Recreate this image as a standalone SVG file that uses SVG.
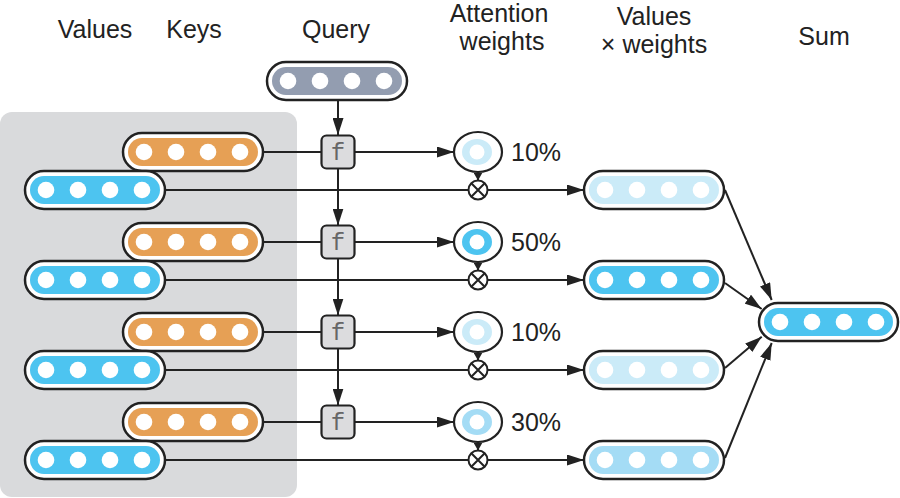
<svg xmlns="http://www.w3.org/2000/svg" xmlns:xlink="http://www.w3.org/1999/xlink" width="900" height="498" viewBox="0 0 900 498">
<style>
  .lbl{font-family:"Liberation Sans",Arial,sans-serif;font-size:25px;fill:#222;}
  .mid{text-anchor:middle;}
  .po{fill:#fff;stroke:#222;stroke-width:2.5;}
  .blue{fill:#4dc4f0;}
  .pale{fill:#cbebf8;}
  .light{fill:#a4dcf5;}
  .orange{fill:#e6a055;}
  .query{fill:#939db0;}
  .fbox{fill:#dcdcde;stroke:#222;stroke-width:2.2;}
  .ftxt{font-family:"Liberation Mono","Courier New",monospace;font-size:24px;fill:#666;text-anchor:middle;}
  .wo{fill:#fff;stroke:#222;stroke-width:2.2;}
  .mul{fill:#fff;stroke:#222;stroke-width:2;}
  .ln{fill:none;stroke:#222;stroke-width:2;}
</style>
<defs>
  <g id="dots" fill="#fff">
    <circle cx="21" cy="0" r="8.3"/>
    <circle cx="53" cy="0" r="8.3"/>
    <circle cx="85" cy="0" r="8.3"/>
    <circle cx="117" cy="0" r="8.3"/>
  </g>
  <marker id="arr" markerUnits="userSpaceOnUse" markerWidth="17" markerHeight="11" refX="17" refY="5.5" orient="auto">
    <path d="M0,0 L17,5.5 L0,11 z" fill="#222"/>
  </marker>
  <marker id="arrS" markerUnits="userSpaceOnUse" markerWidth="9" markerHeight="9" refX="8" refY="4.5" orient="auto">
    <path d="M0,0 L8,4.5 L0,9 z" fill="#222"/>
  </marker>
</defs>

<rect id="panel" x="0" y="112" width="297" height="385" rx="12" fill="#d9dadc"/>

<g id="headers">
  <text class="lbl mid" x="95" y="38">Values</text>
  <text class="lbl mid" x="194" y="38">Keys</text>
  <text class="lbl mid" x="336" y="38">Query</text>
  <text class="lbl mid" x="499" y="22">Attention</text>
  <text class="lbl mid" x="502" y="50">weights</text>
  <text class="lbl mid" x="654" y="25">Values</text>
  <text class="lbl mid" x="654" y="53">× weights</text>
  <text class="lbl mid" x="824" y="45">Sum</text>
</g>

<g id="connectors">
  <path class="ln" d="M338,100 V135" marker-end="url(#arr)"/>
  <path class="ln" d="M338,168.5 V225.5" marker-end="url(#arr)"/>
  <path class="ln" d="M338,258.5 V315.5" marker-end="url(#arr)"/>
  <path class="ln" d="M338,348.5 V405.5" marker-end="url(#arr)"/>

  <path class="ln" d="M263,152 H321.5"/>
  <path class="ln" d="M263,242 H321.5"/>
  <path class="ln" d="M263,332 H321.5"/>
  <path class="ln" d="M263,422 H321.5"/>

  <path class="ln" d="M354.5,152 H454" marker-end="url(#arr)"/>
  <path class="ln" d="M354.5,242 H454" marker-end="url(#arr)"/>
  <path class="ln" d="M354.5,332 H454" marker-end="url(#arr)"/>
  <path class="ln" d="M354.5,422 H454" marker-end="url(#arr)"/>

  <path class="ln" d="M478,172 V180.5" marker-end="url(#arrS)"/>
  <path class="ln" d="M478,262 V270.5" marker-end="url(#arrS)"/>
  <path class="ln" d="M478,352 V360.5" marker-end="url(#arrS)"/>
  <path class="ln" d="M478,442 V450.5" marker-end="url(#arrS)"/>

  <path class="ln" d="M165,190 H584" marker-end="url(#arr)"/>
  <path class="ln" d="M165,280 H584" marker-end="url(#arr)"/>
  <path class="ln" d="M165,370 H584" marker-end="url(#arr)"/>
  <path class="ln" d="M165,460 H584" marker-end="url(#arr)"/>

  <path class="ln" d="M725,190 L771.7,300" marker-end="url(#arr)"/>
  <path class="ln" d="M725,283 L761.7,309" marker-end="url(#arr)"/>
  <path class="ln" d="M725,368 L761.7,336.7" marker-end="url(#arr)"/>
  <path class="ln" d="M725,458 L771.7,343" marker-end="url(#arr)"/>
</g>

<g id="query">
  <rect class="po" x="267" y="62" width="140" height="38" rx="19"/>
  <rect class="query" x="272" y="67" width="130" height="28" rx="14"/>
  <use xlink:href="#dots" x="267" y="81"/>
</g>

<g id="key1"><rect class="po" x="123" y="133" width="140" height="38" rx="19"/><rect class="orange" x="128" y="138" width="130" height="28" rx="14"/><use xlink:href="#dots" x="123" y="152"/></g>
<g id="key2"><rect class="po" x="123" y="223" width="140" height="38" rx="19"/><rect class="orange" x="128" y="228" width="130" height="28" rx="14"/><use xlink:href="#dots" x="123" y="242"/></g>
<g id="key3"><rect class="po" x="123" y="313" width="140" height="38" rx="19"/><rect class="orange" x="128" y="318" width="130" height="28" rx="14"/><use xlink:href="#dots" x="123" y="332"/></g>
<g id="key4"><rect class="po" x="123" y="403" width="140" height="38" rx="19"/><rect class="orange" x="128" y="408" width="130" height="28" rx="14"/><use xlink:href="#dots" x="123" y="422"/></g>

<g id="value1"><rect class="po" x="25" y="171" width="140" height="38" rx="19"/><rect class="blue" x="30" y="176" width="130" height="28" rx="14"/><use xlink:href="#dots" x="25" y="190"/></g>
<g id="value2"><rect class="po" x="25" y="261" width="140" height="38" rx="19"/><rect class="blue" x="30" y="266" width="130" height="28" rx="14"/><use xlink:href="#dots" x="25" y="280"/></g>
<g id="value3"><rect class="po" x="25" y="351" width="140" height="38" rx="19"/><rect class="blue" x="30" y="356" width="130" height="28" rx="14"/><use xlink:href="#dots" x="25" y="370"/></g>
<g id="value4"><rect class="po" x="25" y="441" width="140" height="38" rx="19"/><rect class="blue" x="30" y="446" width="130" height="28" rx="14"/><use xlink:href="#dots" x="25" y="460"/></g>

<g id="f1"><rect class="fbox" x="321.5" y="135.5" width="33" height="33" rx="5"/><text class="ftxt" x="338" y="160">f</text></g>
<g id="f2"><rect class="fbox" x="321.5" y="225.5" width="33" height="33" rx="5"/><text class="ftxt" x="338" y="250">f</text></g>
<g id="f3"><rect class="fbox" x="321.5" y="315.5" width="33" height="33" rx="5"/><text class="ftxt" x="338" y="340">f</text></g>
<g id="f4"><rect class="fbox" x="321.5" y="405.5" width="33" height="33" rx="5"/><text class="ftxt" x="338" y="430">f</text></g>

<g id="weight1"><ellipse class="wo" cx="478" cy="152" rx="24" ry="20"/><ellipse class="pale" cx="477" cy="152" rx="15" ry="13"/><ellipse fill="#fff" cx="477" cy="152" rx="7.5" ry="7.5"/><text class="lbl" x="511" y="161">10%</text></g>
<g id="weight2"><ellipse class="wo" cx="478" cy="242" rx="24" ry="20"/><ellipse class="blue" cx="477" cy="242" rx="15" ry="13"/><ellipse fill="#fff" cx="477" cy="242" rx="7.5" ry="7.5"/><text class="lbl" x="511" y="251">50%</text></g>
<g id="weight3"><ellipse class="wo" cx="478" cy="332" rx="24" ry="20"/><ellipse class="pale" cx="477" cy="332" rx="15" ry="13"/><ellipse fill="#fff" cx="477" cy="332" rx="7.5" ry="7.5"/><text class="lbl" x="511" y="341">10%</text></g>
<g id="weight4"><ellipse class="wo" cx="478" cy="422" rx="24" ry="20"/><ellipse class="light" cx="477" cy="422" rx="15" ry="13"/><ellipse fill="#fff" cx="477" cy="422" rx="7.5" ry="7.5"/><text class="lbl" x="511" y="431">30%</text></g>

<g id="mul1"><circle class="mul" cx="478" cy="190" r="9.5"/><path class="ln" d="M471.3,183.3 L484.7,196.7 M484.7,183.3 L471.3,196.7"/></g>
<g id="mul2"><circle class="mul" cx="478" cy="280" r="9.5"/><path class="ln" d="M471.3,273.3 L484.7,286.7 M484.7,273.3 L471.3,286.7"/></g>
<g id="mul3"><circle class="mul" cx="478" cy="370" r="9.5"/><path class="ln" d="M471.3,363.3 L484.7,376.7 M484.7,363.3 L471.3,376.7"/></g>
<g id="mul4"><circle class="mul" cx="478" cy="460" r="9.5"/><path class="ln" d="M471.3,453.3 L484.7,466.7 M484.7,453.3 L471.3,466.7"/></g>

<g id="vw1"><rect class="po" x="584" y="171" width="140" height="38" rx="19"/><rect class="pale" x="589" y="176" width="130" height="28" rx="14"/><use xlink:href="#dots" x="584" y="190"/></g>
<g id="vw2"><rect class="po" x="584" y="261" width="140" height="38" rx="19"/><rect class="blue" x="589" y="266" width="130" height="28" rx="14"/><use xlink:href="#dots" x="584" y="280"/></g>
<g id="vw3"><rect class="po" x="584" y="351" width="140" height="38" rx="19"/><rect class="pale" x="589" y="356" width="130" height="28" rx="14"/><use xlink:href="#dots" x="584" y="370"/></g>
<g id="vw4"><rect class="po" x="584" y="441" width="140" height="38" rx="19"/><rect class="light" x="589" y="446" width="130" height="28" rx="14"/><use xlink:href="#dots" x="584" y="460"/></g>

<g id="sum"><rect class="po" x="759" y="303" width="139" height="38" rx="19"/><rect class="blue" x="764" y="308" width="129" height="28" rx="14"/><use xlink:href="#dots" x="759" y="322"/></g>
</svg>
